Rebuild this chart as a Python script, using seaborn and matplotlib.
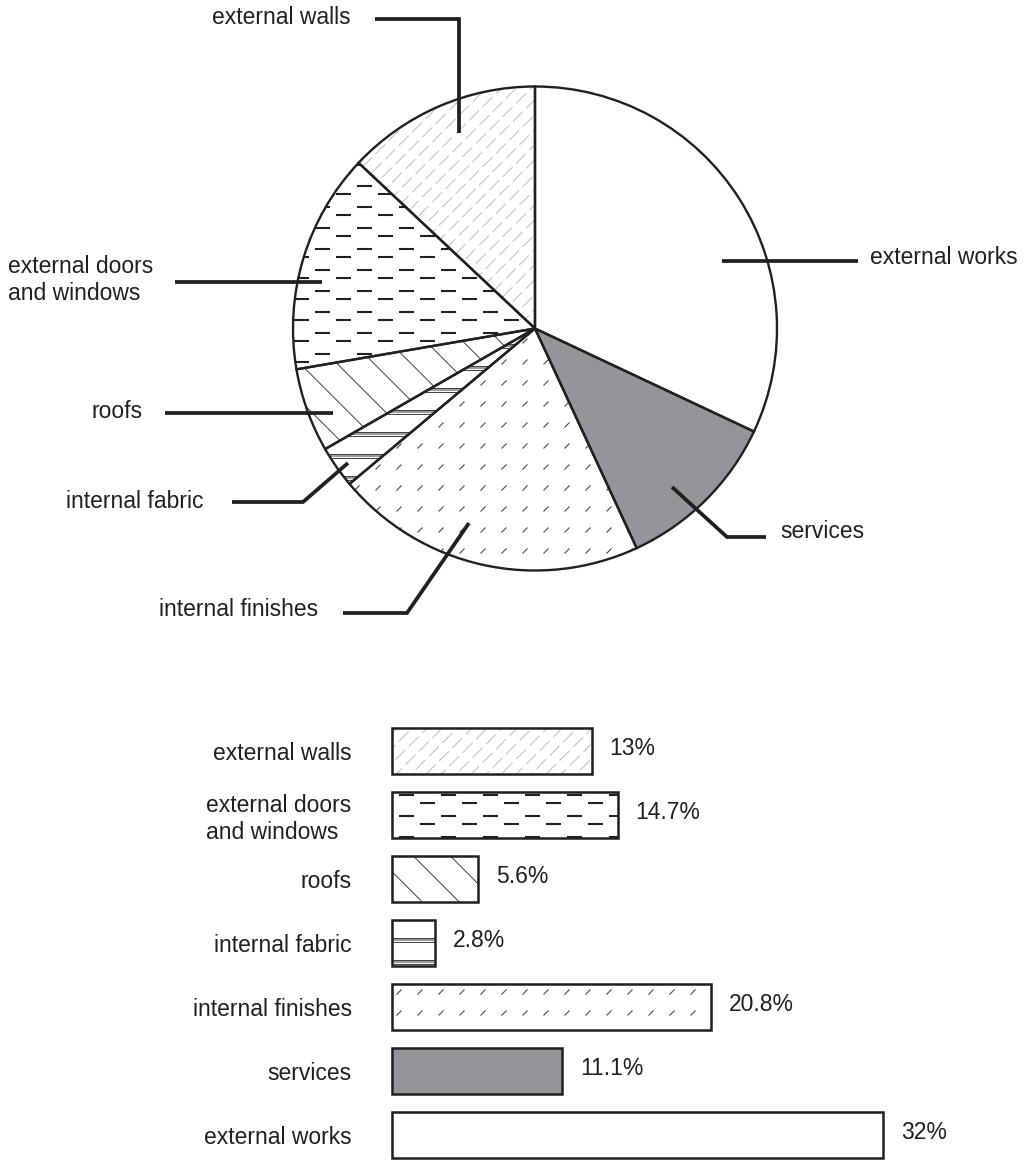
import numpy as np
import pandas as pd
import seaborn as sns
import matplotlib.pyplot as plt
from matplotlib.collections import LineCollection
from matplotlib.patches import Rectangle
from matplotlib.transforms import IdentityTransform

# data
categories = ["external walls", "external doors\nand windows", "roofs", "internal fabric",
              "internal finishes", "services", "external works"]
shares = [13.0, 14.7, 5.6, 2.8, 20.8, 11.1, 32.0]
fills = ["white", "white", "white", "white", "white", "#939598", "white"]
textures = ["walls", "doors", "roofs", "fabric", "finishes", None, None]

INK = "#231f20"
FS = 16.5
W, H = 1033, 1160

# pie geometry in pixels (centre, radius)
CX, CY, R = 535, 328.5, 242
PIE_BOTTOM = 640


def px(x, y):
    return (x - CX) / R, (CY - y) / R


# leader lines (pixel path), label anchor (pixel), alignment
leaders = {
    "external walls": ([(375, 19), (459, 19), (459, 133)], (351, 18), "right"),
    "external doors\nand windows": ([(175, 282), (322, 282)], (8, 280), "left"),
    "roofs": ([(165, 413), (333, 413)], (143, 411), "right"),
    "internal fabric": ([(232, 502), (303, 502), (348, 463)], (204, 501), "right"),
    "internal finishes": ([(343, 613), (407, 613), (469, 523)], (318, 610), "right"),
    "services": ([(672, 487), (727, 537), (766, 537)], (780, 532), "left"),
    "external works": ([(722, 261), (858, 261)], (870, 258), "left"),
}


def dash_segments(p0, p1, on, off, phase=0.0):
    p0 = np.asarray(p0, float)
    p1 = np.asarray(p1, float)
    L = np.hypot(*(p1 - p0))
    u = (p1 - p0) / L
    segs = []
    t = -phase
    while t < L:
        a, b = max(t, 0), min(t + on, L)
        if b > a:
            segs.append([p0 + u * a, p0 + u * b])
        t += on + off
    return segs


def texture(ax, patch, kind):
    bb = patch.get_window_extent()
    x0, x1, y0, y1 = bb.x0 - 6, bb.x1 + 6, bb.y0 - 6, bb.y1 + 6
    h = y1 - y0
    layers = []
    if kind == "walls":
        segs = []
        for i, c in enumerate(np.arange(np.floor((x0 - h) / 15) * 15, x1, 15)):
            segs += dash_segments((c, y0), (c + h, y1), 14, 5, phase=(i * 7) % 19)
        layers.append((segs, "#a3a3a3", 0.5))
    elif kind == "doors":
        segs = []
        for base in np.arange(np.floor(y0 / 21) * 21, y1, 21):
            for dy, shift in ((0, 0), (8, 21)):
                for x in np.arange(np.floor(x0 / 42) * 42 - 42 + shift, x1, 42):
                    segs.append([(x, base + dy), (x + 15, base + dy)])
        layers.append((segs, INK, 1.5))
    elif kind == "roofs":
        segs = []
        for c in np.arange(np.floor((x0 - h) / 37) * 37, x1, 37):
            segs.append([(c, y1), (c + h, y0)])
        layers.append((segs, INK, 0.6))
    elif kind == "fabric":
        mids, edges = [], []
        for y in np.arange(np.floor(y0 / 22) * 22, y1, 22):
            mids.append([(x0, y), (x1, y)])
            edges.append([(x0, y + 2.3), (x1, y + 2.3)])
            edges.append([(x0, y - 2.3), (x1, y - 2.3)])
        layers.append((mids, "#9d9d9d", 1.6))
        layers.append((edges, INK, 0.6))
    elif kind == "finishes":
        segs = []
        for y in np.arange(np.floor(y0 / 21) * 21, y1, 21):
            for x in np.arange(np.floor(x0 / 21) * 21, x1, 21):
                segs.append([(x - 2.5, y - 2.5), (x + 2.5, y + 2.5)])
        layers.append((segs, "#4a4a4a", 0.8))
    for segs, col, lw in layers:
        lc = LineCollection(segs, colors=col, linewidths=lw, transform=IdentityTransform(),
                            zorder=patch.get_zorder() + 0.5)
        ax.add_collection(lc, autolim=False)
        lc.set_clip_path(patch)


sns.set_theme(style="white")
plt.rcParams["font.family"] = ["Liberation Sans", "DejaVu Sans"]

fig = plt.figure(figsize=(W / 100, H / 100), dpi=100)

# ---- pie ----
ax_pie = fig.add_axes([0, 1 - PIE_BOTTOM / H, 1, PIE_BOTTOM / H])
wedges, _ = ax_pie.pie(shares, startangle=90, colors=fills,
                       wedgeprops=dict(linewidth=0, edgecolor="none", zorder=1))
ax_pie.pie(shares, startangle=90, colors=["none"] * len(shares),
           wedgeprops=dict(linewidth=1.7, edgecolor=INK, zorder=3))
ax_pie.set_aspect("auto")
ax_pie.set_xlim(px(0, 0)[0], px(W, 0)[0])
ax_pie.set_ylim(px(0, PIE_BOTTOM)[1], px(0, 0)[1])
ax_pie.axis("off")

for w, kind in zip(wedges, textures):
    if kind:
        texture(ax_pie, w, kind)

for name, (path, anchor, ha) in leaders.items():
    pts = np.array([px(*p) for p in path])
    ax_pie.plot(pts[:, 0], pts[:, 1], color=INK, lw=2.7, solid_joinstyle="miter",
                solid_capstyle="butt", zorder=6, clip_on=False)
    ax_pie.text(*px(*anchor), name, ha=ha, va="center", fontsize=FS, color=INK,
                multialignment="left")

# ---- bars ----
PX_PER_PCT = 15.35
BAR_LEFT, BAR_TOP, ROW = 392, 719, 64
ax_bar = fig.add_axes([BAR_LEFT / W, 0, (W - BAR_LEFT) / W, (H - BAR_TOP) / H])
df = pd.DataFrame({"element": categories, "share": shares})
sns.barplot(data=df, x="share", y="element", hue="element", orient="h",
            palette=dict(zip(categories, fills)), saturation=1, width=0.73,
            linewidth=0, legend=False, ax=ax_bar)
ax_bar.set_xlim(0, (W - BAR_LEFT) / PX_PER_PCT)
ax_bar.set_ylim((H - BAR_TOP) / ROW - 0.5, -0.5)
for s in ax_bar.spines.values():
    s.set_visible(False)
ax_bar.set_xticks([])
ax_bar.set_xlabel("")
ax_bar.set_ylabel("")
ax_bar.tick_params(axis="y", length=0, pad=29, labelsize=FS, labelcolor=INK)
for t in ax_bar.get_yticklabels():
    t.set_multialignment("left")

bars = sorted(ax_bar.patches, key=lambda p: p.get_y())
for i, p in enumerate(bars):
    p.set_zorder(1)
    if textures[i]:
        texture(ax_bar, p, textures[i])
    ax_bar.add_patch(Rectangle(p.get_xy(), p.get_width(), p.get_height(), fill=False,
                               ec=INK, lw=1.8, zorder=3, clip_on=False))
    ax_bar.text(shares[i] + 18 / PX_PER_PCT, i - 0.04, f"{shares[i]:g}%", ha="left",
                va="center", fontsize=FS, color=INK)

fig.savefig("out.png", dpi=100, facecolor="white")
